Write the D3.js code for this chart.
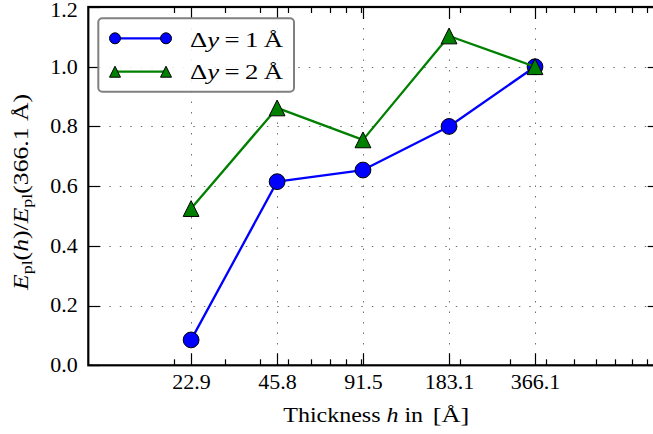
<!DOCTYPE html>
<html>
<head>
<meta charset="utf-8">
<script src="https://cdn.jsdelivr.net/npm/d3@7"></script>
<style>
  html, body { margin: 0; padding: 0; background: #fff; }
  svg { display: block; font-family: "Liberation Serif", "DejaVu Serif", serif; }
</style>
</head>
<body>
<svg id="chart" width="653" height="434"></svg>
<script>
// Slab thickness (Å) and normalised planar energy for two grid spacings
const thickness = [22.9, 45.8, 91.5, 183.1, 366.1];
const dy1 = [0.085, 0.615, 0.654, 0.800, 1.000];
const dy2 = [0.525, 0.862, 0.755, 1.103, 1.000];
const yTicks = [0.0, 0.2, 0.4, 0.6, 0.8, 1.0, 1.2];
const xTickLabels = ["22.9", "45.8", "91.5", "183.1", "366.1"];

const svg = d3.select("#chart");
const plotL = 88.3, plotR = 659.7, plotT = 7, plotB = 365.3;

const x = d3.scaleLog().domain([10, 1000]).range([plotL, plotR]);
const y = d3.scaleLinear().domain([0, 1.2]).range([plotB, plotT]);

// minor log ticks 20..90, 200..900
const minor = [];
[10, 100].forEach(d => { for (let k = 2; k <= 9; k++) minor.push(d * k); });

const font = 20;

// widen glyphs of a text element by a factor (serif face is narrower than the layout wants)
function widen(sel, factor) {
  sel.each(function () {
    const w = this.getComputedTextLength();
    d3.select(this).attr("textLength", w * factor).attr("lengthAdjust", "spacingAndGlyphs");
  });
}

// grid
const grid = svg.append("g").attr("stroke", "#707070").attr("stroke-width", 1)
  .attr("stroke-dasharray", "1.5,9");
grid.selectAll("line.gy").data(yTicks.slice(1, -1)).join("line")
  .attr("x1", plotL).attr("x2", plotR)
  .attr("y1", d => Math.round(y(d)) + 0.5).attr("y2", d => Math.round(y(d)) + 0.5);
grid.selectAll("line.gx").data(thickness).join("line")
  .attr("y1", plotT).attr("y2", plotB)
  .attr("x1", d => Math.round(x(d)) + 0.5).attr("x2", d => Math.round(x(d)) + 0.5);

// axes with inward ticks
const ax = svg.append("g").attr("stroke", "#000");
thickness.forEach(d => {
  const px = Math.round(x(d)) + 0.5;
  ax.append("line").attr("x1", px).attr("x2", px).attr("y1", plotB).attr("y2", plotB - 12).attr("stroke-width", 1.2);
  ax.append("line").attr("x1", px).attr("x2", px).attr("y1", plotT).attr("y2", plotT + 12).attr("stroke-width", 1.2);
});
minor.forEach(d => {
  const px = Math.round(x(d)) + 0.5;
  ax.append("line").attr("x1", px).attr("x2", px).attr("y1", plotB).attr("y2", plotB - 6).attr("stroke-width", 1.2);
  ax.append("line").attr("x1", px).attr("x2", px).attr("y1", plotT).attr("y2", plotT + 6).attr("stroke-width", 1.2);
});
yTicks.forEach(d => {
  const py = Math.round(y(d)) + 0.5;
  ax.append("line").attr("x1", plotL).attr("x2", plotL + 12).attr("y1", py).attr("y2", py).attr("stroke-width", 1.2);
  ax.append("line").attr("x1", plotR).attr("x2", plotR - 12).attr("y1", py).attr("y2", py).attr("stroke-width", 1.2);
});
ax.append("rect").attr("x", plotL).attr("y", plotT).attr("width", plotR - plotL).attr("height", plotB - plotT)
  .attr("fill", "none").attr("stroke-width", 2.2);

// tick labels
const xl = svg.append("g").selectAll("text").data(thickness).join("text")
  .attr("x", d => x(d) + 0.5).attr("y", 389)
  .attr("text-anchor", "middle").attr("font-size", font)
  .text((d, i) => xTickLabels[i]);
widen(xl, 1.1);
const yl = svg.append("g").selectAll("text").data(yTicks).join("text")
  .attr("x", 77.8).attr("y", d => Math.max(y(d) + 6.8, 16.6))
  .attr("text-anchor", "end").attr("font-size", font)
  .text(d => d.toFixed(1));
widen(yl, 1.1);

// series
function markers(pts, color, shape, size) {
  const g = svg.append("g");
  const s = size / 2;
  pts.forEach(([px, py]) => {
    if (shape === "circle") {
      g.append("circle").attr("cx", px).attr("cy", py).attr("r", s)
        .attr("fill", color).attr("stroke", "#000").attr("stroke-width", 1);
    } else {
      g.append("path").attr("d", `M${px},${py - s}L${px - s},${py + s}L${px + s},${py + s}Z`)
        .attr("fill", color).attr("stroke", "#000").attr("stroke-width", 1);
    }
  });
}
function series(vals, color, shape) {
  const pts = thickness.map((t, i) => [x(t), y(vals[i])]);
  svg.append("path").attr("d", d3.line()(pts)).attr("fill", "none")
    .attr("stroke", color).attr("stroke-width", 2.3).attr("stroke-linejoin", "round");
  markers(pts, color, shape, 15.8);
}
series(dy1, "#0000ff", "circle");
series(dy2, "#008000", "triangle");

// legend
const lg = svg.append("g");
lg.append("rect").attr("x", 98.3).attr("y", 18.3).attr("width", 195.7).attr("height", 73.4)
  .attr("rx", 4).attr("fill", "#fff").attr("fill-opacity", 0.85)
  .attr("stroke", "#808080").attr("stroke-width", 2);
const entries = [
  { color: "#0000ff", shape: "circle", n: "1", ly: 38.3, ty: 46.7 },
  { color: "#008000", shape: "triangle", n: "2", ly: 71.7, ty: 79.3 }
];
entries.forEach(e => {
  lg.append("line").attr("x1", 115).attr("x2", 166).attr("y1", e.ly).attr("y2", e.ly)
    .attr("stroke", e.color).attr("stroke-width", 2.3);
  markers([[115, e.ly], [166, e.ly]], e.color, e.shape, 11);
  const t = lg.append("text").attr("x", 190).attr("y", e.ty).attr("font-size", font)
    .attr("textLength", 93).attr("lengthAdjust", "spacingAndGlyphs");
  t.append("tspan").text("Δ");
  t.append("tspan").attr("font-style", "italic").text("y");
  t.append("tspan").attr("dx", 4).text("=");
  t.append("tspan").attr("dx", 4).text(e.n);
  t.append("tspan").attr("dx", 4).text("Å");
});

// axis titles
const xt = svg.append("text").attr("x", 283.3).attr("y", 421.7).attr("font-size", font)
  .attr("textLength", 186).attr("lengthAdjust", "spacingAndGlyphs");
xt.append("tspan").text("Thickness ");
xt.append("tspan").attr("font-style", "italic").text("h");
xt.append("tspan").text(" in ");
xt.append("tspan").attr("dx", 3).attr("font-size", 22).text("[Å]");

const yt = svg.append("text").attr("transform", "translate(27.5,290) rotate(-90)")
  .attr("font-size", font).attr("textLength", 196).attr("lengthAdjust", "spacingAndGlyphs");
yt.append("tspan").attr("font-style", "italic").text("E");
yt.append("tspan").attr("font-size", 14).attr("dy", 4).text("pl");
yt.append("tspan").attr("dy", -4).text("(");
yt.append("tspan").attr("font-style", "italic").text("h");
yt.append("tspan").text(")/");
yt.append("tspan").attr("font-style", "italic").text("E");
yt.append("tspan").attr("font-size", 14).attr("dy", 4).text("pl");
yt.append("tspan").attr("dy", -4).text("(366.1 Å)");
</script>
</body>
</html>
